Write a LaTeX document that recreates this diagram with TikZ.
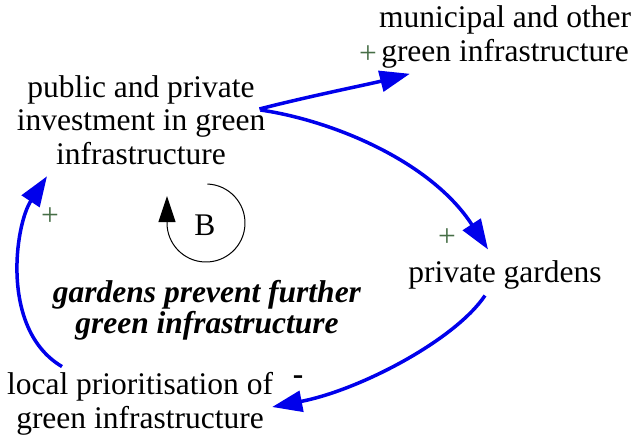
\documentclass[tikz,border=0pt]{standalone}
\usepackage{fontspec}
\setmainfont{Liberation Serif}
\usetikzlibrary{arrows.meta,calc}
\definecolor{linkblue}{RGB}{0,0,235}
\definecolor{polgreen}{RGB}{70,110,70}
\begin{document}
\begin{tikzpicture}[x=1pt,y=1pt,
  var/.style={align=center,inner sep=0pt,font=\fontsize{31.5}{33.5}\selectfont},
  loopname/.style={align=center,inner sep=0pt,font=\fontsize{31.5}{31}\selectfont\bfseries\itshape},
  link/.style={draw=linkblue,line width=3.5pt,-{Triangle[length=30pt,width=21pt]}},
  pol/.style={inner sep=0pt,font=\fontsize{31.5}{33}\selectfont,text=polgreen},
  neg/.style={inner sep=0pt,font=\fontsize{31.5}{33}\selectfont\bfseries},
  looparrow/.style={draw=black,line width=1pt,-{Triangle[length=26pt,width=17pt]}}]
\useasboundingbox (0,0) rectangle (635,-444);
\node[var] (mun) at (505,-37) {municipal and other\\green infrastructure};
\node[var] (pub) at (141,-120) {public and private\\investment in green\\infrastructure};
\node[var] (gar) at (505,-275) {private gardens};
\node[var] (loc) at (140,-404) {local prioritisation of\\green infrastructure};
\node[loopname] (lname) at (207,-310) {gardens prevent further\\green infrastructure};
\node[var] (B) at (205,-225) {B};
% polarities
\node[pol] (p1) at (368,-55) {+};
\node[pol] (p2) at (447,-238) {+};
\node[pol] (p4) at (50,-217) {+};
\node[neg] (p3) at (298,-380) {-};
% links
\draw[link] ($(pub.east)+(-6,11)$) .. controls (310,-96) and (370,-84) .. ($(mun.south west)+(31,-5.5)$);
\draw[link] ($(pub.east)+(-5,10)$) .. controls (330,-120) and (430,-160) .. ($(gar.north)+(-17,11)$);
\draw[link] ($(gar.south)+(-20,-6)$) .. controls (455,-340) and (360,-390) .. ($(loc.east)+(-1,-3)$);
\draw[link] ($(loc.north)+(-78,6)$) .. controls (0,-330) and (15,-225) .. ($(pub.south)+(-94,-11.5)$);
% loop marker
\draw[looparrow] (B) ++(1,2) ++(88:39) arc[start angle=88,end angle=-180,radius=39] -- ++(0,27);
\end{tikzpicture}
\end{document}
